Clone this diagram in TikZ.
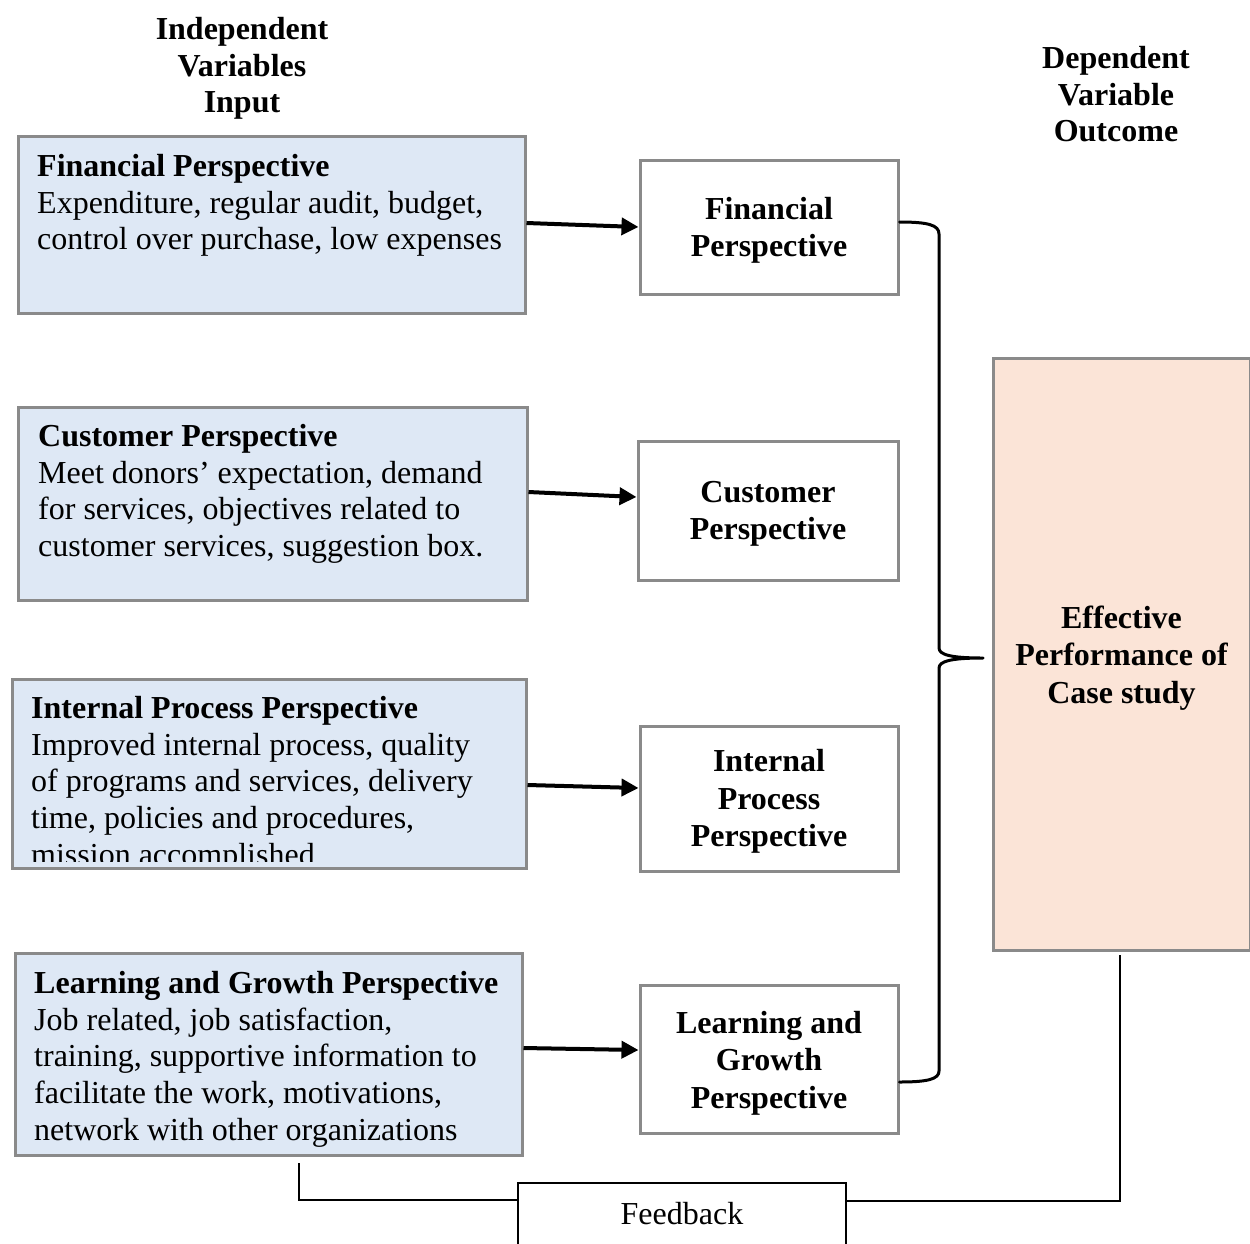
\documentclass[tikz,border=0pt]{standalone}
\usepackage{fontspec}
\setmainfont{Liberation Serif}
\usetikzlibrary{arrows.meta}
\definecolor{framegray}{HTML}{8A8A8A}
\definecolor{inputblue}{HTML}{DEE8F5}
\definecolor{outpeach}{HTML}{FBE4D7}
% zero-width strut fixing the height of a block's first line
\newcommand{\firstline}{\rule{0pt}{25.6pt}}
\begin{document}
\begin{tikzpicture}[x=1pt,y=-1pt,
  bodytext/.style={font=\fontsize{32}{36.8}\selectfont, inner sep=0pt, align=left, anchor=north west},
  headtext/.style={font=\fontsize{32}{36.8}\selectfont\bfseries, inner sep=0pt, align=center, anchor=north},
  boxtext/.style={font=\fontsize{32}{37.5}\selectfont\bfseries, inner sep=0pt, align=center},
  inbox/.style={draw=framegray, line width=3pt, fill=inputblue, inner sep=0pt, anchor=north west},
  outbox/.style={draw=framegray, line width=3pt, fill=white, inner sep=0pt, anchor=north west},
  resultbox/.style={draw=framegray, line width=3pt, fill=outpeach, inner sep=0pt, anchor=north west},
  fbbox/.style={draw=black, line width=2pt, fill=white, inner sep=0pt, minimum width=328pt,
    minimum height=80pt, text height=22pt, text depth=20pt, font=\fontsize{32}{36.8}\selectfont},
  arr/.style={line width=4pt, -{Triangle[length=17pt,width=17pt]}},
  brace/.style={line width=3pt, line cap=round, line join=round},
  loopline/.style={line width=1.4pt}]

\useasboundingbox (0,0) rectangle (1250,1243);
\fill[white] (0,0) rectangle (1250,1243);

% column headings
\node[headtext] (inhead) at (242,13.4) {\firstline Independent\\Variables\\Input};
\node[headtext] (dephead) at (1116,42.4) {\firstline Dependent\\Variable\\Outcome};

% input boxes
\node[inbox, minimum width=507pt, minimum height=177pt] (finL) at (16.5,134.5) {};
\node[inbox, minimum width=509pt, minimum height=193pt] (cusL) at (16.5,405.5) {};
\node[inbox, minimum width=514pt, minimum height=189pt] (intL) at (10.5,677.5) {};
\node[inbox, minimum width=507pt, minimum height=202pt] (lrnL) at (13.5,951.5) {};

\node[bodytext] (finLt) at (37,150.4) {\firstline\textbf{Financial Perspective}\\
  Expenditure, regular audit, budget,\\control over purchase, low expenses};
\node[bodytext] (cusLt) at (38,420.4) {\firstline\textbf{Customer Perspective}\\
  Meet donors’ expectation, demand\\for services, objectives related to\\customer services, suggestion box.};
\begin{scope}
  \clip (12,679) rectangle (524,861);
  \node[bodytext] (intLt) at (31,692.4) {\firstline\textbf{Internal Process Perspective}\\
    Improved internal process, quality\\of programs and services, delivery\\time, policies and procedures,\\mission accomplished};
\end{scope}
\node[bodytext] (lrnLt) at (34,967.4) {\firstline\textbf{Learning and Growth Perspective}\\
  Job related, job satisfaction,\\training, supportive information to\\facilitate the work, motivations,\\network with other organizations};

% perspective boxes
\node[outbox, minimum width=258pt, minimum height=134pt] (finM) at (638.5,158.5) {};
\node[outbox, minimum width=260pt, minimum height=139pt] (cusM) at (636.5,439.5) {};
\node[outbox, minimum width=258pt, minimum height=145pt] (intM) at (638.5,724.5) {};
\node[outbox, minimum width=258pt, minimum height=148pt] (lrnM) at (638.5,983.5) {};
\node[boxtext] (finMt) at ([yshift=-3.5pt]finM.center) {Financial\\Perspective};
\node[boxtext] (cusMt) at ([yshift=-3.5pt]cusM.center) {Customer\\Perspective};
\node[boxtext] (intMt) at ([yshift=-3pt]intM.center) {Internal\\Process\\Perspective};
\node[boxtext] (lrnMt) at ([yshift=-4pt]lrnM.center) {Learning and\\Growth\\Perspective};

% outcome box
\node[resultbox, minimum width=257pt, minimum height=592pt] (eff) at (991.5,356.5) {};
\node[boxtext] (efft) at ([yshift=-4pt]eff.center) {Effective\\Performance of\\Case study};

% input -> perspective arrows
\draw[arr] (finL.east |- 0,223) -- (finM.west |- 0,227);
\draw[arr] (cusL.east |- 0,492) -- (cusM.west |- 0,497);
\draw[arr] (intL.east |- 0,785) -- (intM.west |- 0,788);
\draw[arr] (lrnL.east |- 0,1048) -- (lrnM.west |- 0,1050);

% brace gathering the four perspectives
\coordinate (bracetip) at (983,658);
\draw[brace] (finM.east |- 0,222) .. controls (928,222) and (939,225) .. (939,234)
  -- (939,648) .. controls (939,655) and (952,658) .. (bracetip)
  .. controls (952,658) and (939,661) .. (939,668)
  -- (939,1071) .. controls (939,1079) and (928,1082) .. (lrnM.east |- 0,1082);

% feedback loop
\node[fbbox] (fb) at (682,1223) {Feedback};
\coordinate (loopL) at (299,1163);
\coordinate (loopR) at (1120,955);
\draw[loopline] (loopL) |- ([yshift=-18pt]fb.north west);
\draw[loopline] ([yshift=-19pt]fb.north east) -| (loopR);
\end{tikzpicture}
\end{document}
